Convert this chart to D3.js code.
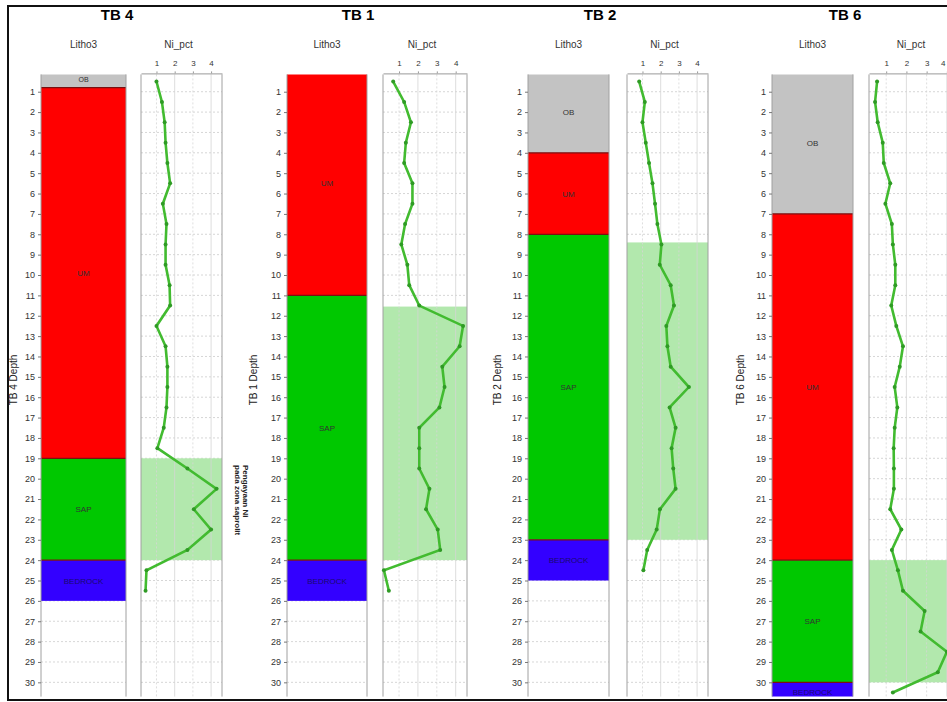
<!DOCTYPE html>
<html>
<head>
<meta charset="utf-8">
<script src="https://cdn.jsdelivr.net/npm/d3@7"></script>
<style>
  body { margin: 0; background: #fff; }
  svg { font-family: "Liberation Sans", Arial, sans-serif; }
</style>
</head>
<body>
<div id="chart"></div>
<script>
// ---- data ----
var holes = ['TB 4', 'TB 1', 'TB 2', 'TB 6'];
var depthTicks = [1, 2, 3, 4, 5, 6, 7, 8, 9, 10, 11, 12, 13, 14, 15, 16, 17, 18, 19, 20,
  21, 22, 23, 24, 25, 26, 27, 28, 29, 30];
var niTicks = [1, 2, 3, 4];
var sampleDepths = [0.5, 1.5, 2.5, 3.5, 4.5, 5.5, 6.5, 7.5, 8.5, 9.5, 10.5, 11.5, 12.5, 13.5,
  14.5, 15.5, 16.5, 17.5, 18.5, 19.5, 20.5, 21.5, 22.5, 23.5, 24.5, 25.5, 26.5, 27.5, 28.5,
  29.5, 30.5];

// litho units: [name, top, base]
var lithoTB4 = [['OB', 0, 0.8], ['UM', 0.8, 19], ['SAP', 19, 24], ['BEDROCK', 24, 26]];
var lithoTB1 = [['UM', 0, 11], ['SAP', 11, 24], ['BEDROCK', 24, 26]];
var lithoTB2 = [['OB', 0, 4], ['UM', 4, 8], ['SAP', 8, 23], ['BEDROCK', 23, 25]];
var lithoTB6 = [['OB', 0, 7], ['UM', 7, 24], ['SAP', 24, 30], ['BEDROCK', 30, 31]];

var niTB4 = [1.0, 1.3, 1.45, 1.5, 1.6, 1.75, 1.35, 1.55, 1.5, 1.5, 1.72, 1.75, 1.0, 1.5,
  1.6, 1.6, 1.55, 1.4, 1.05, 2.7, 4.3, 3.05, 4.0, 2.7, 0.45, 0.4];
var niTB1 = [0.69, 1.27, 1.63, 1.36, 1.27, 1.71, 1.71, 1.32, 1.12, 1.44, 1.54, 2.07, 4.39,
  4.21, 3.29, 3.41, 3.14, 2.07, 2.07, 2.07, 2.61, 2.43, 3.05, 3.18, 0.2, 0.46];
var niTB2 = [0.82, 1.13, 1.0, 1.18, 1.36, 1.55, 1.69, 1.82, 2.04, 1.95, 2.55, 2.73, 2.31,
  2.37, 2.55, 3.55, 2.49, 2.82, 2.6, 2.69, 2.82, 1.96, 1.78, 1.26, 1.05];
var niTB6 = [0.55, 0.45, 0.58, 0.83, 0.88, 1.2, 0.96, 1.28, 1.33, 1.45, 1.45, 1.25, 1.5,
  1.83, 1.67, 1.42, 1.55, 1.42, 1.37, 1.38, 1.38, 1.2, 1.75, 1.28, 1.58, 1.83, 2.9, 2.7,
  4.0, 3.55, 1.33];

// enriched Ni zone (top, base)
var zoneTB4 = [19, 24];
var zoneTB1 = [11.55, 24];
var zoneTB2 = [8.4, 23];
var zoneTB6 = [24, 30];

var lithoColors = { OB: '#c3c3c3', UM: '#ff0000', SAP: '#00c800', BEDROCK: '#3300ff' };

// ---- layout ----
var width = 947, height = 702;
var panels = [
  { name: holes[0], litho: lithoTB4, ni: niTB4, zone: zoneTB4, lx: [41, 126], nx: [141, 222], titleX: 117, axisTitleX: 13 },
  { name: holes[1], litho: lithoTB1, ni: niTB1, zone: zoneTB1, lx: [287, 367], nx: [383, 467], titleX: 358, axisTitleX: 253 },
  { name: holes[2], litho: lithoTB2, ni: niTB2, zone: zoneTB2, lx: [528, 609], nx: [627, 708], titleX: 600, axisTitleX: 497 },
  { name: holes[3], litho: lithoTB6, ni: niTB6, zone: zoneTB6, lx: [772, 853], nx: [869, 959], titleX: 845, axisTitleX: 740 }
];

var plotTop = 74.4, plotBottom = 696.6;
var y = d3.scaleLinear().domain([0.15, 30.7]).range([plotTop, plotBottom]);

var svg = d3.select('#chart').append('svg')
  .attr('width', width)
  .attr('height', height);

svg.append('rect').attr('width', width).attr('height', height).attr('fill', '#fff');

var clip = svg.append('defs').append('clipPath').attr('id', 'plotclip');
clip.append('rect').attr('x', 0).attr('y', plotTop).attr('width', width).attr('height', plotBottom - plotTop);

panels.forEach(function(p) {
  var g = svg.append('g');
  var x = d3.scaleLinear().domain([0.15, 4.6]).range(p.nx);

  // titles
  g.append('text')
    .attr('x', p.titleX).attr('y', 20)
    .attr('text-anchor', 'middle')
    .attr('font-size', 15).attr('font-weight', 'bold')
    .text(p.name);
  g.append('text')
    .attr('x', (p.lx[0] + p.lx[1]) / 2).attr('y', 48)
    .attr('text-anchor', 'middle').attr('font-size', 10).attr('fill', '#333')
    .text('Litho3');
  g.append('text')
    .attr('x', (p.nx[0] + p.nx[1]) / 2 - 3).attr('y', 48)
    .attr('text-anchor', 'middle').attr('font-size', 10).attr('fill', '#333')
    .text('Ni_pct');

  // horizontal grid in both tracks
  [p.lx, p.nx].forEach(function(rng) {
    g.append('g').selectAll('line').data(depthTicks).enter().append('line')
      .attr('x1', rng[0]).attr('x2', rng[1])
      .attr('y1', function(d) { return y(d); })
      .attr('y2', function(d) { return y(d); })
      .attr('stroke', '#cccccc').attr('stroke-width', 0.8)
      .attr('stroke-dasharray', '2,2');
  });

  // enrichment zone
  g.append('rect')
    .attr('x', p.nx[0]).attr('width', p.nx[1] - p.nx[0])
    .attr('y', y(p.zone[0])).attr('height', y(p.zone[1]) - y(p.zone[0]))
    .attr('fill', '#b2e8ad');

  // vertical grid in Ni track
  g.append('g').selectAll('line').data(niTicks).enter().append('line')
    .attr('x1', function(d) { return x(d); })
    .attr('x2', function(d) { return x(d); })
    .attr('y1', plotTop).attr('y2', plotBottom)
    .attr('stroke', '#d6d6d6').attr('stroke-width', 0.8)
    .attr('stroke-dasharray', function(d) { return d % 2 ? '2,2' : null; });

  // litho column
  var units = g.append('g').attr('clip-path', 'url(#plotclip)');
  units.selectAll('rect').data(p.litho).enter().append('rect')
    .attr('x', p.lx[0]).attr('width', p.lx[1] - p.lx[0])
    .attr('y', function(d) { return y(d[1]); })
    .attr('height', function(d) { return y(d[2]) - y(d[1]); })
    .attr('fill', function(d) { return lithoColors[d[0]]; });
  units.selectAll('line.edge').data(p.litho.slice(1)).enter().append('line')
    .attr('class', 'edge')
    .attr('x1', p.lx[0]).attr('x2', p.lx[1])
    .attr('y1', function(d) { return y(d[1]); })
    .attr('y2', function(d) { return y(d[1]); })
    .attr('stroke', '#7a1010').attr('stroke-width', 1.2);
  units.selectAll('text').data(p.litho).enter().append('text')
    .attr('x', (p.lx[0] + p.lx[1]) / 2)
    .attr('y', function(d) { return y((d[1] + Math.min(d[2], 30.9)) / 2) + 3; })
    .attr('text-anchor', 'middle')
    .attr('font-size', function(d) { return d[2] - d[1] < 1 ? 7 : 8; })
    .attr('fill', function(d) { return d[0] === 'BEDROCK' ? '#1a0a70' : '#333'; })
    .text(function(d) { return d[0]; });

  // track frames
  [p.lx[0], p.lx[1], p.nx[0], p.nx[1]].forEach(function(xx) {
    g.append('line')
      .attr('x1', xx).attr('x2', xx).attr('y1', plotTop).attr('y2', plotBottom)
      .attr('stroke', '#a0a0a0').attr('stroke-width', 1);
  });

  // depth axis
  var yAxis = g.append('g')
    .attr('transform', 'translate(' + p.lx[0] + ',0)')
    .call(d3.axisLeft(y).tickValues(depthTicks).tickSize(3).tickPadding(3));
  yAxis.select('.domain').remove();
  yAxis.selectAll('line').attr('stroke', '#777');
  yAxis.selectAll('text').attr('font-size', 9).attr('fill', '#333')
    .attr('font-family', '"Liberation Sans", Arial, sans-serif');

  g.append('text')
    .attr('transform', 'translate(' + (p.axisTitleX + 4) + ',380) rotate(-90)')
    .attr('text-anchor', 'middle').attr('font-size', 10).attr('fill', '#222')
    .text(p.name + ' Depth');

  // Ni axis on top
  var xAxis = g.append('g')
    .attr('transform', 'translate(0,' + (plotTop - 1) + ')')
    .call(d3.axisTop(x).tickValues(niTicks).tickFormat(d3.format('d'))
      .tickSize(2).tickPadding(5).tickSizeOuter(0));
  xAxis.select('.domain').attr('stroke', '#999');
  xAxis.selectAll('line').attr('stroke', '#999');
  xAxis.selectAll('text').attr('font-size', 8).attr('fill', '#333')
    .attr('font-family', '"Liberation Sans", Arial, sans-serif')
    .attr('text-anchor', function(d) { return x(d) > width - 5 ? 'end' : 'middle'; })
    .attr('dx', function(d) { return x(d) > width - 5 ? (width - 2 - x(d)) : 0; });

  // Ni curve
  var pts = p.ni.map(function(v, i) { return [v, sampleDepths[i]]; });
  var line = d3.line()
    .x(function(d) { return x(d[0]); })
    .y(function(d) { return y(d[1]); });
  var curve = g.append('g').attr('clip-path', 'url(#plotclip)');
  curve.append('path')
    .datum(pts)
    .attr('d', line)
    .attr('fill', 'none')
    .attr('stroke', '#42bb30')
    .attr('stroke-width', 2.6);
  curve.selectAll('circle').data(pts).enter().append('circle')
    .attr('cx', function(d) { return x(d[0]); })
    .attr('cy', function(d) { return y(d[1]); })
    .attr('r', 2)
    .attr('fill', '#2f9a25');
});

// annotation next to TB 4 enrichment zone
var note = svg.append('g').attr('font-size', 8).attr('font-weight', 'bold').attr('fill', '#222');
note.append('text')
  .attr('transform', 'translate(243,465) rotate(90)')
  .text('Pengayaan Ni');
note.append('text')
  .attr('transform', 'translate(235,465) rotate(90)')
  .text('pada zona saprolit');

// outer frame
svg.append('rect')
  .attr('x', 8).attr('y', 6)
  .attr('width', width).attr('height', 694)
  .attr('fill', 'none').attr('stroke', '#111').attr('stroke-width', 2);
</script>
</body>
</html>
